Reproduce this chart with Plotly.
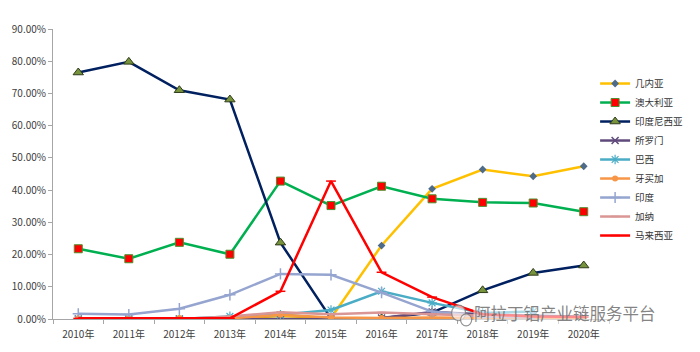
import plotly.graph_objects as go

years = ["2010年", "2011年", "2012年", "2013年", "2014年", "2015年",
         "2016年", "2017年", "2018年", "2019年", "2020年"]

guinea = [0.0, 0.0, 0.1, 0.0, 0.9, 0.3, 22.8, 40.4, 46.4, 44.3, 47.4]
australia = [21.8, 18.7, 23.8, 20.1, 42.8, 35.2, 41.2, 37.3, 36.2, 36.0, 33.3]
indonesia = [76.5, 79.8, 71.0, 68.1, 23.7, 0.2, 0.2, 2.0, 8.9, 14.3, 16.6]
solomon = [0.0, 0.0, 0.0, 0.0, 0.0, 0.0, 0.3, 2.2, 1.5, 1.0, 0.8]
brazil = [0.0, 0.0, 0.0, 0.8, 1.3, 2.8, 8.6, 5.0, 1.9, 2.3, None]
jamaica = [0.2, 0.2, 0.3, 0.2, 1.3, 0.5, 0.3, 0.5, 0.3, 0.2, 0.2]
india = [1.6, 1.4, 3.2, 7.5, 14.0, 13.7, 8.2, 2.3, 0.8, 0.5, None]
ghana = [0.0, 0.0, 0.0, 0.8, 2.1, 1.5, 2.0, 1.5, 1.0, 0.8, None]
malaysia = [0.2, 0.2, 0.4, 0.2, 8.6, 42.8, 14.5, 6.8, 1.5, 0.8, 0.6]

y_ticks = [0, 0.1, 0.2, 0.3, 0.4, 0.5, 0.6, 0.7, 0.8, 0.9]

series = [
    ("几内亚", guinea, "#FFC000", dict(symbol="diamond", size=6, color="#4F6B8A", line=dict(width=0))),
    ("澳大利亚", australia, "#00B050", dict(symbol="square", size=8, color="#FF0000", line=dict(color="#4E8F2E", width=1))),
    ("印度尼西亚", indonesia, "#002060", dict(symbol="triangle-up", size=9, color="#77933C", line=dict(color="#2E3B1A", width=1))),
    ("所罗门", solomon, "#604A7B", dict(symbol="x-thin-open", size=7, color="#604A7B", line=dict(color="#604A7B", width=1.5))),
    ("巴西", brazil, "#4BACC6", dict(symbol="asterisk-open", size=8, color="#4BACC6", line=dict(color="#4BACC6", width=1.2))),
    ("牙买加", jamaica, "#F79646", dict(symbol="circle", size=6, color="#F79646", line=dict(width=0))),
    ("印度", india, "#95A5D0", dict(symbol="cross-thin-open", size=8, color="#95A5D0", line=dict(color="#95A5D0", width=1.5))),
    ("加纳", ghana, "#D99694", dict(symbol="line-ew-open", size=6, color="#D99694", line=dict(color="#D99694", width=1.5))),
    ("马来西亚", malaysia, "#FF0000", dict(symbol="line-ew-open", size=7, color="#FF0000", line=dict(color="#FF0000", width=1.5))),
]

fig = go.Figure()
for name, vals, col, mk in series:
    fig.add_trace(go.Scatter(
        x=years, y=[v / 100 if v is not None else None for v in vals],
        name=name, mode="lines+markers",
        line=dict(color=col, width=2.5), marker=mk,
    ))

fig.update_layout(
    width=700, height=352,
    margin=dict(l=53, r=75, t=29, b=33),
    paper_bgcolor="white", plot_bgcolor="white",
    font=dict(family="Noto Sans CJK SC, DejaVu Sans, sans-serif", size=10, color="#404040"),
    showlegend=True,
    legend=dict(x=0.975, y=0.862, xanchor="left", yanchor="top",
                font=dict(size=9.5, color="#333333"), bgcolor="rgba(0,0,0,0)",
                borderwidth=0, tracegroupgap=0, itemwidth=30),
    xaxis=dict(type="category", showgrid=False, showline=True, linecolor="#A6A6A6",
               ticks="outside", tickson="boundaries", ticklen=4, tickcolor="#A6A6A6",
               ticklabelstandoff=6,
               tickfont=dict(size=10, color="#404040"), zeroline=False,
               range=[-0.5, 10.5]),
    yaxis=dict(range=[0, 0.9], tickvals=y_ticks, tickformat=".2%", showgrid=False,
               showline=True, linecolor="#A6A6A6", ticks="outside", ticklen=4,
               tickcolor="#A6A6A6", zeroline=False,
               tickfont=dict(size=10, color="#404040")),
)

fig.add_annotation(
    xref="paper", yref="paper", x=0.92, y=-0.024, xanchor="center", yanchor="bottom",
    text="阿拉丁铝产业链服务平台", showarrow=False, borderpad=0,
    font=dict(size=16.5, color="rgba(110,110,110,0.85)",
              family="Noto Sans CJK SC, sans-serif"),
    bgcolor="rgba(255,255,255,0.55)",
)
# WeChat-like icon outline
fig.add_shape(type="circle", xref="paper", yref="paper",
              x0=0.717, x1=0.742, y0=-0.006, y1=0.048,
              line=dict(color="rgba(120,120,120,0.8)", width=1.2),
              fillcolor="rgba(255,255,255,0.6)")
fig.add_shape(type="circle", xref="paper", yref="paper",
              x0=0.733, x1=0.753, y0=-0.024, y1=0.018,
              line=dict(color="rgba(120,120,120,0.8)", width=1.2),
              fillcolor="rgba(255,255,255,0.6)")

fig.write_html("out.html")
